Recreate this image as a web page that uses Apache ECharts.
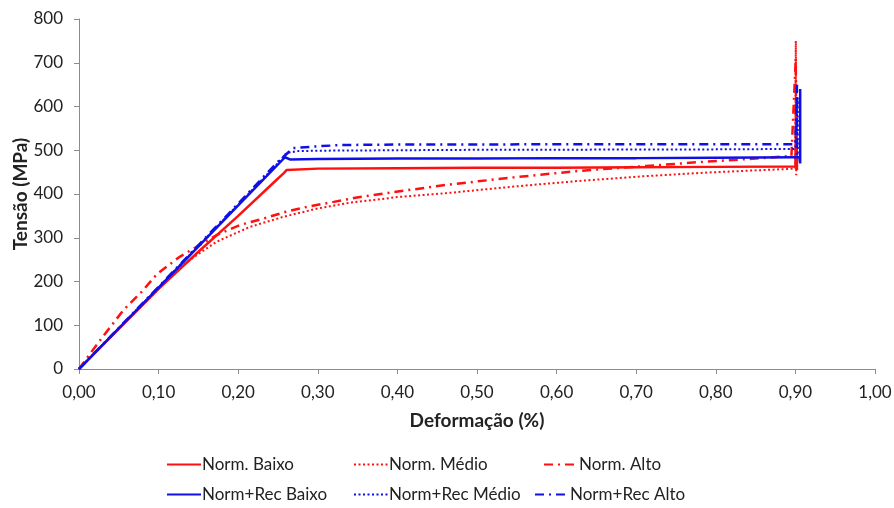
<!DOCTYPE html>
<html>
<head>
<meta charset="utf-8">
<script src="https://cdn.jsdelivr.net/npm/echarts@6/dist/echarts.min.js"></script>
<style>
  html, body { margin: 0; padding: 0; background: #fff; }
  #chart { width: 894px; height: 508px; }
</style>
</head>
<body>
<div id="chart"></div>
<script>
// Norm. Baixo
const baixoX = [0, 0.05, 0.10, 0.15, 0.20, 0.248, 0.257, 0.261, 0.30, 0.40, 0.50, 0.60, 0.70, 0.80, 0.90, 0.901, 0.902]
const baixoY = [0, 92, 183, 268, 350, 432, 447, 455, 458, 459, 460, 460, 461, 462, 463, 620, 455]
// Norm. Médio
const medioX = [0, 0.05, 0.10, 0.114, 0.131, 0.15, 0.173, 0.20, 0.215, 0.257, 0.30, 0.34, 0.378, 0.40, 0.462, 0.546, 0.629, 0.713, 0.789, 0.85, 0.90, 0.9005, 0.901]
const medioY = [0, 92, 183, 210, 238, 263, 291, 313, 325, 348, 367, 380, 388, 393, 402, 417, 430, 441, 449, 454, 458, 750, 443]
// Norm. Alto
const altoX = [0, 0.01, 0.03, 0.056, 0.079, 0.098, 0.127, 0.173, 0.202, 0.232, 0.261, 0.29, 0.32, 0.349, 0.382, 0.462, 0.546, 0.629, 0.713, 0.78, 0.85, 0.895, 0.9005, 0.901]
const altoY = [0, 25, 74, 135, 177, 217, 257, 306, 329, 344, 360, 372, 382, 392, 401, 421, 438, 453, 464, 473, 481, 487, 710, 470]
// Norm+Rec Baixo
const recBaixoX = [0, 0.10, 0.20, 0.2588, 0.265, 0.30, 0.40, 0.50, 0.60, 0.70, 0.80, 0.90, 0.905, 0.906, 0.906]
const recBaixoY = [0, 186, 374, 484, 479, 480, 481, 481, 482, 482, 483, 484, 484, 470, 640]
// Norm+Rec Médio
const recMedioX = [0, 0.10, 0.20, 0.25, 0.261, 0.275, 0.30, 0.40, 0.50, 0.60, 0.70, 0.80, 0.90, 0.903, 0.903]
const recMedioY = [0, 187, 376, 471, 494, 498, 499, 500, 501, 501, 502, 502, 503, 620, 480]
// Norm+Rec Alto
const recAltoX = [0, 0.10, 0.20, 0.25, 0.269, 0.30, 0.33, 0.40, 0.50, 0.60, 0.70, 0.80, 0.90, 0.902, 0.902]
const recAltoY = [0, 188, 378, 474, 505, 509, 512, 513, 513, 514, 514, 514, 514, 650, 490]

const RED = '#ff1010'
const BLUE = '#1010e6'
const FONT = 'Lato'

function pairs(xs, ys) {
  return xs.map((x, i) => [x, ys[i]])
}

function lineSeries(name, xs, ys, color, type, width) {
  return {
    name: name,
    type: 'line',
    symbol: 'none',
    animation: false,
    lineStyle: { color: color, type: type, width: width },
    itemStyle: { color: color },
    data: pairs(xs, ys)
  }
}

// one legend per item so the rows line up like the original
function legendAt(name, left, top) {
  return {
    data: [name],
    left: left,
    top: top,
    itemWidth: 34,
    itemHeight: 12,
    itemGap: 0,
    padding: 0,
    itemStyle: { opacity: 0 },
    textStyle: { fontFamily: FONT, fontSize: 17, color: '#222', padding: [0, 0, 0, -4] }
  }
}

const chart = echarts.init(document.getElementById('chart'))
chart.setOption({
  backgroundColor: '#fff',
  grid: { left: 79, right: 19, top: 19, bottom: 139, containLabel: false, outerBoundsMode: 'none' },
  legend: [
    legendAt('Norm. Baixo', 166, 456),
    legendAt('Norm. Médio', 353, 456),
    legendAt('Norm. Alto', 543, 456),
    legendAt('Norm+Rec Baixo', 166, 486),
    legendAt('Norm+Rec Médio', 353, 486),
    legendAt('Norm+Rec Alto', 534, 486)
  ],
  xAxis: {
    type: 'value',
    min: 0,
    max: 1,
    interval: 0.1,
    name: 'Deformação (%)',
    nameLocation: 'middle',
    nameGap: 42,
    nameMoveOverlap: false,
    nameTextStyle: { fontFamily: FONT, fontSize: 19, fontWeight: 'bold', color: '#222' },
    axisLine: { lineStyle: { color: '#8c8c8c', width: 1 } },
    axisTick: { show: true, length: 5, lineStyle: { color: '#8c8c8c' } },
    splitLine: { show: false },
    axisLabel: {
      fontFamily: FONT,
      fontSize: 17,
      color: '#222',
      margin: 15,
      formatter: v => v.toFixed(2).replace('.', ',')
    }
  },
  yAxis: {
    type: 'value',
    min: 0,
    max: 800,
    interval: 100,
    name: 'Tensão (MPa)',
    nameLocation: 'middle',
    nameGap: 49,
    nameMoveOverlap: false,
    nameTextStyle: { fontFamily: FONT, fontSize: 19, fontWeight: 'bold', color: '#222' },
    axisLine: { show: true, lineStyle: { color: '#8c8c8c', width: 1 } },
    axisTick: { show: true, length: 5, lineStyle: { color: '#8c8c8c' } },
    splitLine: { show: false },
    axisLabel: { fontFamily: FONT, fontSize: 17, color: '#222', margin: 16 }
  },
  series: [
    lineSeries('Norm. Baixo', baixoX, baixoY, RED, 'solid', 2.5),
    lineSeries('Norm. Médio', medioX, medioY, RED, [2, 2.5], 2),
    lineSeries('Norm. Alto', altoX, altoY, RED, [9, 5, 2, 5], 2.5),
    lineSeries('Norm+Rec Baixo', recBaixoX, recBaixoY, BLUE, 'solid', 2.5),
    lineSeries('Norm+Rec Médio', recMedioX, recMedioY, BLUE, [2, 2.5], 2),
    lineSeries('Norm+Rec Alto', recAltoX, recAltoY, BLUE, [9, 5, 2, 5], 2.5)
  ]
})
</script>
</body>
</html>
